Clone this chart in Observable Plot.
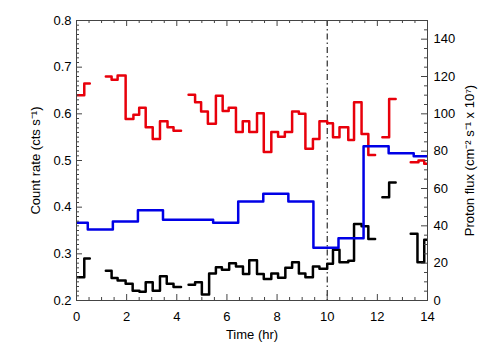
<!DOCTYPE html>
<html><head><meta charset="utf-8">
<script src="https://cdn.jsdelivr.net/npm/d3@7"></script>
<script src="https://cdn.jsdelivr.net/npm/@observablehq/plot@0.6"></script>
<style>body{margin:0;background:#fff}</style>
</head><body><div id="chart"></div>
<script>
// ---- Data (time in hr; count rates in cts/s; proton flux in cm^-2 s^-1 x 10^7) ----
const redStart = [0,0.31, 1.17,1.4,1.64,1.96,2.27,2.5,2.76,3.04,3.33,3.63,3.87,
  4.47,4.73,4.97,5.24,5.56,5.83,6.07,6.36,6.63,6.89,7.2,7.47,7.77,8.04,8.31,8.6,8.87,9.13,9.43,9.69,10.0,10.23,10.49,10.84,11.07,11.37,11.64,
  12.2,12.47, 13.33,13.64,13.87];
const redEnd = [0.31,0.53, 1.4,1.64,1.96,2.27,2.5,2.76,3.04,3.33,3.63,3.87,4.17,
  4.73,4.97,5.24,5.56,5.83,6.07,6.36,6.63,6.89,7.2,7.47,7.77,8.04,8.31,8.6,8.87,9.13,9.43,9.69,10.0,10.23,10.49,10.84,11.07,11.37,11.64,11.91,
  12.47,12.73, 13.64,13.87,14];
const redValue = [0.64,0.665, 0.68,0.673,0.682,0.589,0.598,0.613,0.571,0.546,0.584,0.571,0.564,
  0.641,0.625,0.605,0.579,0.639,0.606,0.613,0.561,0.584,0.561,0.601,0.518,0.561,0.551,0.561,0.605,0.6,0.525,0.546,0.584,0.58,0.55,0.571,0.544,0.625,0.557,0.512,
  0.55,0.632, 0.496,0.5,0.493];

const blackStart = [0,0.31, 1.17,1.4,1.64,1.96,2.24,2.51,2.76,3.04,3.33,3.6,3.87,
  4.47,4.73,5.0,5.29,5.56,5.8,6.09,6.36,6.64,6.89,7.2,7.47,7.77,8.04,8.33,8.6,8.87,9.13,9.43,9.69,10.0,10.23,10.49,10.84,11.07,11.37,11.64,
  12.2,12.47, 13.33,13.6,13.87];
const blackEnd = [0.31,0.53, 1.4,1.64,1.96,2.24,2.51,2.76,3.04,3.33,3.6,3.87,4.17,
  4.73,5.0,5.29,5.56,5.8,6.09,6.36,6.64,6.89,7.2,7.47,7.77,8.04,8.33,8.6,8.87,9.13,9.43,9.69,10.0,10.23,10.49,10.84,11.07,11.37,11.64,11.91,
  12.47,12.73, 13.6,13.87,14];
const blackValue = [0.25,0.29, 0.264,0.248,0.243,0.236,0.221,0.219,0.239,0.221,0.252,0.236,0.229,
  0.234,0.239,0.213,0.258,0.271,0.266,0.28,0.273,0.257,0.286,0.257,0.246,0.258,0.249,0.27,0.282,0.258,0.25,0.273,0.268,0.279,0.309,0.282,0.285,0.364,0.359,0.332,
  0.421,0.453, 0.343,0.282,0.33];

const blueEdges = [0,0.45,1.45,2.45,3.45,4.45,5.45,6.45,7.45,8.45,9.45,10.45,11.45,12.45,13.45,14];
const blueFlux = [41.6,38,42.3,48.3,43.3,43.3,41.6,53,57.2,53,28.3,33.4,82.7,78.9,77.3];

const xMajor = [0,2,4,6,8,10,12,14];
const xMinor = d3.range(0, 14.001, 0.5);
const yMajor = [0.2,0.3,0.4,0.5,0.6,0.7,0.8];
const yMinor = d3.range(0.2, 0.8001, 0.01);
const fluxMajor = [0,20,40,60,80,100,120,140];
const fluxMinor = d3.range(0, 150.001, 5);
const markerTime = [10];

// ---- helpers ----
const rateDomain = [0.2, 0.8], fluxDomain = [0, 150];
const toRate = f => rateDomain[0] + (f - fluxDomain[0]) * (rateDomain[1]-rateDomain[0])/(fluxDomain[1]-fluxDomain[0]);
const fromRate = r => fluxDomain[0] + (r - rateDomain[0]) * (fluxDomain[1]-fluxDomain[0])/(rateDomain[1]-rateDomain[0]);

function steps(start, end, value) {
  const pts = []; let seg = 0;
  for (let i = 0; i < start.length; i++) {
    if (i > 0 && Math.abs(start[i] - end[i-1]) > 1e-6) seg++;
    pts.push({t: start[i], v: value[i], seg});
    pts.push({t: end[i], v: value[i], seg});
  }
  return pts;
}
const redPts = steps(redStart, redEnd, redValue);
const blackPts = steps(blackStart, blackEnd, blackValue);
const bluePts = steps(blueEdges.slice(0,-1), blueEdges.slice(1), blueFlux.map(toRate));

const W = 504, H = 360, mL = 76, mR = 77, mT = 20, mB = 60;
const xPerPx = 14 / (W - mL - mR);
const yPerPx = (rateDomain[1]-rateDomain[0]) / (H - mT - mB);
const majL = 6, minL = 3;
const tickStroke = "#444";

const isMajorX = t => xMajor.some(m => Math.abs(m - t) < 1e-6);
const isMajorY = v => yMajor.some(m => Math.abs(m - v) < 1e-6);
const isMajorF = v => fluxMajor.some(m => Math.abs(m - v) < 1e-6);

const chart = Plot.plot({
  width: W, height: H,
  marginLeft: mL, marginRight: mR, marginTop: mT, marginBottom: mB,
  style: {fontFamily: "'Liberation Sans', Arial, Helvetica, sans-serif", fontSize: "13px", background: "#fff", color: "#000"},
  x: {domain: [0, 14]},
  y: {domain: rateDomain},
  marks: [
    Plot.ruleX(markerTime, {stroke: "#000", strokeWidth: 1, strokeDasharray: "6,3,1.5,3"}),
    Plot.line(blackPts, {x: "t", y: "v", z: "seg", stroke: "#000", strokeWidth: 2.5, clip: true}),
    Plot.line(redPts, {x: "t", y: "v", z: "seg", stroke: "#e8000b", strokeWidth: 2.5, clip: true}),
    Plot.line(bluePts, {x: "t", y: "v", z: "seg", stroke: "#0000e6", strokeWidth: 2.5, clip: true}),
    // inward ticks
    Plot.ruleX(xMinor, {x: d => d, y1: rateDomain[0], y2: d => rateDomain[0] + (isMajorX(d) ? majL : minL) * yPerPx, stroke: tickStroke}),
    Plot.ruleX(xMinor, {x: d => d, y1: rateDomain[1], y2: d => rateDomain[1] - (isMajorX(d) ? majL : minL) * yPerPx, stroke: tickStroke}),
    Plot.ruleY(yMinor, {y: d => d, x1: 0, x2: d => (isMajorY(d) ? majL : minL) * xPerPx, stroke: tickStroke}),
    Plot.ruleY(fluxMinor, {y: d => toRate(d), x1: 14, x2: d => 14 - (isMajorF(d) ? majL : minL) * xPerPx, stroke: tickStroke}),
    Plot.frame({stroke: tickStroke}),
    Plot.axisX({ticks: xMajor, tickSize: 0, tickPadding: 11, label: "Time (hr)", labelAnchor: "center", labelArrow: "none", labelOffset: 38}),
    Plot.axisY({anchor: "left", ticks: yMajor, tickSize: 0, tickPadding: 5, tickFormat: d3.format(".1f"),
      label: "Count rate (cts s⁻¹)", labelAnchor: "center", labelArrow: "none", labelOffset: 46}),
    Plot.axisY({anchor: "right", ticks: fluxMajor.map(toRate), tickSize: 0, tickPadding: 6, tickFormat: d => String(Math.round(fromRate(d))),
      label: "Proton flux (cm⁻² s⁻¹ x 10⁷)", labelAnchor: "center", labelArrow: "none", labelOffset: 46})
  ]
});
document.getElementById("chart").appendChild(chart);
</script>
</body></html>
